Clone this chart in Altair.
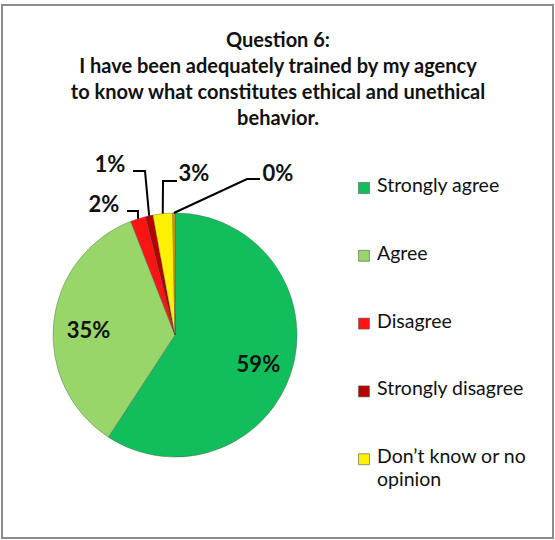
import math
import altair as alt
import pandas as pd

# ---------------- data ----------------
TITLE_LINES = [
    "Question 6:",
    "I have been adequately trained by my agency",
    "to know what constitutes ethical and unethical",
    "behavior.",
]
CATEGORIES = ["Strongly agree", "Agree", "Disagree", "Strongly disagree",
              "Don’t know or no opinion", "No response"]
VALUES = [59.2, 34.9, 2.0, 1.0, 2.6, 0.3]
LEGEND_ITEMS = ["Strongly agree", "Agree", "Disagree", "Strongly disagree",
                "Don’t know or no opinion"]

# ---------------- style ----------------
COLORS = ["#12BE5C", "#98D66A", "#FF1414", "#B40000", "#FFF200", "#DCA400"]
FONT = "Lato"
W, H = 555, 540
PAD = {"left": 2, "top": 5, "right": 2, "bottom": 2}
OX, OY = PAD["left"], PAD["top"]
CX, CY, R = 175, 335, 122
# leader line elbow / end and label anchor for the small slices (pixels)
LEADER_STYLE = {
    "Disagree": {"elbow": (138, 211), "end": (127, 211), "label": (104, 205)},
    "Strongly disagree": {"elbow": (145, 171), "end": (133, 171), "label": (110, 165)},
    "Don’t know or no opinion": {"elbow": (163, 181), "end": (177, 181), "label": (194, 174)},
    "No response": {"elbow": (247, 179), "end": (260, 179), "label": (278, 174)},
}
LEGEND_X, LEGEND_Y0, LEGEND_STEP = 364, 188, 67.8

# ---------------- tables ----------------
df = pd.DataFrame({"category": CATEGORIES, "value": VALUES, "order": range(len(CATEGORIES))})
total = sum(VALUES)

line_rows, lab_rows = [], []
cum = 0.0
for cat, v in zip(CATEGORIES, VALUES):
    mid = (cum + v / 2) / total * 2 * math.pi
    cum += v
    if cat in LEADER_STYLE:
        st = LEADER_STYLE[cat]
        ax, ay = CX + R * math.sin(mid), CY - R * math.cos(mid)
        for i, (px, py) in enumerate([(ax, ay), st["elbow"], st["end"]]):
            line_rows.append({"category": cat, "i": i, "px": px, "py": py})
        lab_rows.append({"category": cat, "px": st["label"][0], "py": st["label"][1],
                         "lbl": f"{round(v)}%"})
lines_df = pd.DataFrame(line_rows)
labs_df = pd.DataFrame(lab_rows)

leg_df = pd.DataFrame({
    "category": LEGEND_ITEMS,
    "idx": range(len(LEGEND_ITEMS)),
    "text": [c.replace("or no opinion", "or no\nopinion") for c in LEGEND_ITEMS],
})

xs = alt.Scale(domain=[OX, W - PAD["right"]], nice=False, zero=False)
ys = alt.Scale(domain=[OY, H - PAD["bottom"]], nice=False, zero=False, reverse=True)
color = alt.Color("category:N", scale=alt.Scale(domain=CATEGORIES, range=COLORS), legend=None)

pie = alt.Chart(df).mark_arc(outerRadius=R, stroke="#4a4a4a", strokeWidth=0.6, strokeOpacity=0.6).encode(
    theta=alt.Theta("value:Q", stack=True),
    order=alt.Order("order:Q"),
    color=color,
    x=alt.value(CX - OX), y=alt.value(CY - OY),
)

big = alt.Chart(df).transform_calculate(
    lbl="datum.value >= 10 ? format(datum.value / 100, '.0%') : ''"
).mark_text(radius=87, dy=5, font=FONT, fontSize=22, fontWeight="bold", color="#111").encode(
    theta=alt.Theta("value:Q", stack=True),
    order=alt.Order("order:Q"),
    text="lbl:N",
    x=alt.value(CX - OX), y=alt.value(CY - OY),
)

leaders = alt.Chart(lines_df).mark_line(color="black", strokeWidth=2).encode(
    x=alt.X("px:Q", scale=xs, axis=None),
    y=alt.Y("py:Q", scale=ys, axis=None),
    detail="category:N",
    order="i:Q",
)

small = alt.Chart(labs_df).mark_text(font=FONT, fontSize=22, fontWeight="bold", color="#111",
                                     baseline="middle", align="center").encode(
    x=alt.X("px:Q", scale=xs, axis=None),
    y=alt.Y("py:Q", scale=ys, axis=None),
    text="lbl:N",
)

leg_base = alt.Chart(leg_df).transform_calculate(
    lx=f"{LEGEND_X}", ly=f"{LEGEND_Y0} + datum.idx * {LEGEND_STEP}",
    tx=f"{LEGEND_X + 13}"
)
leg_sq = leg_base.mark_point(shape="square", filled=True, size=120, opacity=1,
                             stroke="#555", strokeWidth=0.6).encode(
    x=alt.X("lx:Q", scale=xs, axis=None),
    y=alt.Y("ly:Q", scale=ys, axis=None),
    color=color,
)
leg_tx = leg_base.mark_text(align="left", baseline="top", dy=-11, font=FONT, fontSize=19.5,
                            lineBreak="\n", lineHeight=23, color="#111").encode(
    x=alt.X("tx:Q", scale=xs, axis=None),
    y=alt.Y("ly:Q", scale=ys, axis=None),
    text="text:N",
)

title = alt.Chart(pd.DataFrame({"t": ["\n".join(TITLE_LINES)]})).mark_text(
    lineBreak="\n", align="center", baseline="top", font=FONT, fontSize=20,
    fontWeight="bold", lineHeight=26, color="#111"
).encode(text="t:N", x=alt.value(278 - OX), y=alt.value(31 - OY))

chart = alt.layer(pie, big, leaders, small, leg_sq, leg_tx, title).properties(
    width=W - PAD["left"] - PAD["right"],
    height=H - PAD["top"] - PAD["bottom"],
    padding=PAD,
    autosize=alt.AutoSizeParams(type="none"),
    background="white",
).configure_view(stroke="#8c8c8c", strokeWidth=2)

chart.save("out.html", embed_options={"renderer": "svg", "actions": False})
